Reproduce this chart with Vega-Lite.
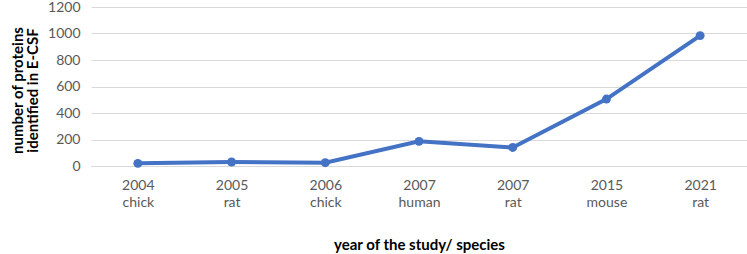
{
  "$schema": "https://vega.github.io/schema/vega-lite/v6.json",
  "width": 656,
  "height": 159,
  "autosize": {"type": "none"},
  "padding": {"left": 91, "top": 7, "right": 0, "bottom": 88},
  "background": "white",
  "data": {
    "values": [
      {"study": "2004|chick", "proteins": 20},
      {"study": "2005|rat", "proteins": 30},
      {"study": "2006|chick", "proteins": 25},
      {"study": "2007|human", "proteins": 186},
      {"study": "2007 |rat", "proteins": 140},
      {"study": "2015|mouse", "proteins": 505},
      {"study": "2021|rat", "proteins": 984}
    ]
  },
  "config": {
    "font": "Lato",
    "view": {"stroke": null}
  },
  "encoding": {
    "x": {
      "field": "study",
      "type": "nominal",
      "sort": null,
      "scale": {"paddingInner": 0, "paddingOuter": 0},
      "axis": {
        "labelExpr": "split(datum.label, '|')",
        "labelAngle": 0,
        "labelColor": "#595959",
        "labelFontSize": 14,
        "labelLineHeight": 17,
        "labelPadding": 12,
        "ticks": false,
        "domainColor": "#d9d9d9",
        "title": "year of the study/ species",
        "titleFontSize": 15,
        "titleFontWeight": "bold",
        "titleColor": "black",
        "titlePadding": 28
      }
    },
    "y": {
      "field": "proteins",
      "type": "quantitative",
      "scale": {"domain": [0, 1200]},
      "axis": {
        "values": [0, 200, 400, 600, 800, 1000, 1200],
        "format": "d",
        "domain": false,
        "ticks": false,
        "gridColor": "#d9d9d9",
        "labelColor": "#595959",
        "labelFontSize": 14,
        "labelPadding": 11,
        "title": ["number of proteins", "identified in E-CSF"],
        "titleFontSize": 15,
        "titleFontWeight": "bold",
        "titleColor": "black",
        "titleLineHeight": 15,
        "titleX": -74,
        "titleY": 83,
        "titleAlign": "center",
        "titleBaseline": "middle"
      }
    }
  },
  "layer": [
    {"mark": {"type": "line", "color": "#4472C4", "strokeWidth": 4}},
    {"mark": {"type": "point", "filled": true, "color": "#4472C4", "opacity": 1, "size": 80}}
  ]
}
